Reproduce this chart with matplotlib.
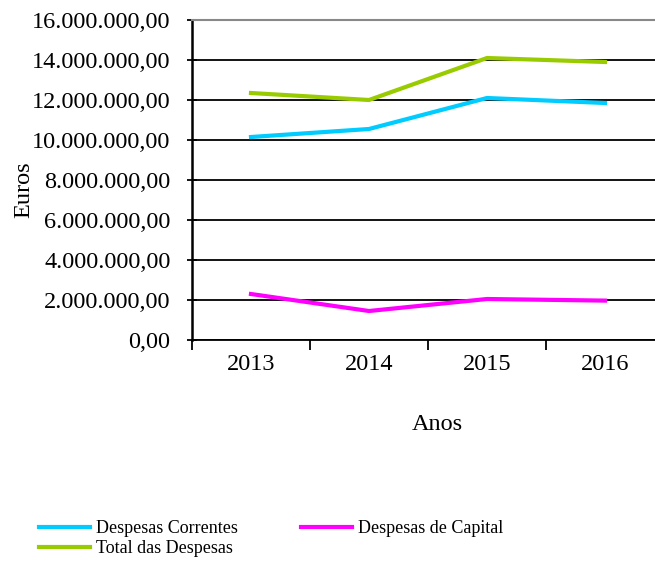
import matplotlib.pyplot as plt
import matplotlib.ticker as mticker

anos = ['2013', '2014', '2015', '2016']
correntes = [10150000, 10550000, 12100000, 11850000]
capital = [2300000, 1450000, 2050000, 1970000]
total = [12350000, 12000000, 14100000, 13900000]

plt.rcParams['font.family'] = ['Liberation Serif', 'DejaVu Serif']

fig = plt.figure(figsize=(6.55, 5.65), dpi=100)
W, H = 655, 565
ax = fig.add_axes([192 / W, 1 - 340 / H, 463 / W, 320 / H])

x = range(len(anos))
l1, = ax.plot(x, correntes, color='#00CCFF', lw=3, label='Despesas Correntes')
l2, = ax.plot(x, capital, color='#FF00FF', lw=3, label='Despesas de Capital')
l3, = ax.plot(x, total, color='#99CC00', lw=3, label='Total das Despesas')

ax.set_ylim(0, 16000000)
ax.set_xlim(-0.5, -0.5 + 463 / 118)
ax.yaxis.set_major_locator(mticker.MultipleLocator(2000000))
ax.yaxis.set_major_formatter(mticker.FuncFormatter(
    lambda v, p: '{:,.2f}'.format(v).replace(',', 'X').replace('.', ',').replace('X', '.')))
ax.grid(axis='y', color='black', lw=1.3)
ax.set_axisbelow(True)

ax.set_xticks([-0.5, 0.5, 1.5, 2.5])
ax.set_xticklabels([])
ax.set_xticks(list(x), minor=True)
ax.set_xticklabels(anos, minor=True)
ax.tick_params(axis='x', which='minor', length=0, pad=10, labelsize=17.5)
ax.tick_params(axis='x', which='major', length=7, width=1.3)
ax.tick_params(axis='y', direction='inout', length=7, width=1.3, labelsize=17.5, pad=12)

ax.spines['right'].set_visible(False)
ax.spines['top'].set_color('#888888')
ax.spines['top'].set_linewidth(1.5)
ax.spines['left'].set_linewidth(1.8)
ax.spines['bottom'].set_linewidth(1.3)

ax.set_ylabel('Euros', fontsize=17.5)
ax.yaxis.set_label_coords(-0.341, 0.47)
ax.set_xlabel('Anos', fontsize=17.5)
ax.xaxis.set_label_coords(0.53, -0.23)

fig.legend([l1, l3, l2], [l1.get_label(), l3.get_label(), l2.get_label()],
           loc='upper left', bbox_to_anchor=(23 / W, 1 - 504 / H), ncol=2,
           frameon=False, fontsize=13, handlelength=2.8, handletextpad=0.35,
           columnspacing=3.5, labelspacing=0.15)

plt.savefig('out.png', dpi=100)
